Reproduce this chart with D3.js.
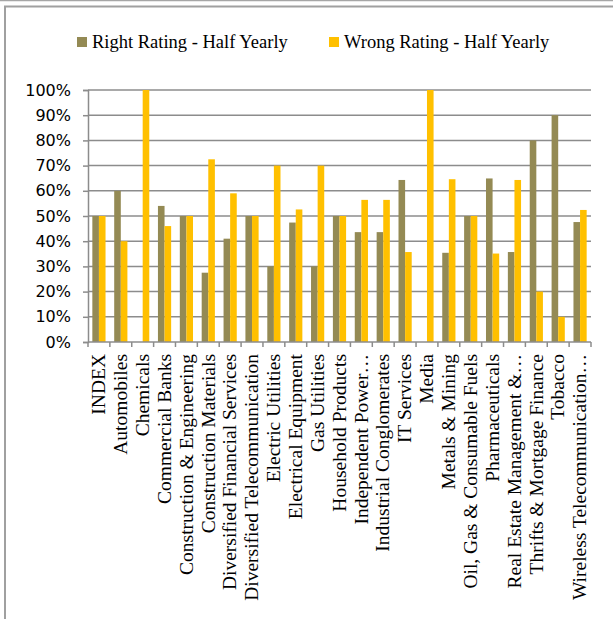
<!DOCTYPE html>
<html>
<head>
<meta charset="utf-8">
<script src="https://cdn.jsdelivr.net/npm/d3@7"></script>
<style>
  body { margin: 0; background: #fff; }
</style>
</head>
<body>
<script>
// data
var categories = ["INDEX", "Automobiles", "Chemicals", "Commercial Banks", "Construction & Engineering",
  "Construction Materials", "Diversified Financial Services", "Diversified Telecommunication",
  "Electric Utilities", "Electrical Equipment", "Gas Utilities", "Household Products",
  "Independent Power…", "Industrial Conglomerates", "IT Services", "Media", "Metals & Mining",
  "Oil, Gas & Consumable Fuels", "Pharmaceuticals", "Real Estate Management &…",
  "Thrifts & Mortgage Finance", "Tobacco", "Wireless Telecommunication…"];
var rightRating = [50, 60, 0, 54, 50, 27.5, 41, 50, 30, 47.4, 30, 50, 43.6, 43.6, 64.3, 0, 35.4, 50, 64.9, 35.7, 80, 90, 47.6];
var wrongRating = [50, 40, 100, 46, 50, 72.5, 59, 50, 70, 52.6, 70, 50, 56.4, 56.4, 35.7, 100, 64.6, 50, 35.1, 64.3, 20, 10, 52.4];
var seriesNames = ["Right Rating - Half Yearly", "Wrong Rating - Half Yearly"];
var yTicks = [0, 10, 20, 30, 40, 50, 60, 70, 80, 90, 100];

var colors = ["#948A54", "#FFC000"];

var W = 613, H = 619;
var svg = d3.select("body").append("svg")
  .attr("width", W)
  .attr("height", H);

// chart frame
svg.append("line")
  .attr("x1", 0).attr("x2", W).attr("y1", 0.5).attr("y2", 0.5)
  .attr("stroke", "#a6a6a6").attr("stroke-width", 1.5);
svg.append("rect")
  .attr("x", 5).attr("y", 6.5).attr("width", W + 20).attr("height", H + 20)
  .attr("fill", "none").attr("stroke", "#a0a0a0").attr("stroke-width", 2);

var plot = {left: 88, right: 591, top: 90, bottom: 342};

var x = d3.scaleBand()
  .domain(categories)
  .range([plot.left, plot.right]);

var y = d3.scaleLinear()
  .domain([0, 100])
  .range([plot.bottom, plot.top]);

// gridlines
svg.append("g")
  .selectAll("line")
  .data(yTicks.filter(d => d > 0))
  .enter().append("line")
  .attr("x1", plot.left).attr("x2", plot.right)
  .attr("y1", d => y(d)).attr("y2", d => y(d))
  .attr("stroke", "#8c8c8c")
  .attr("stroke-width", 1.5);

// y axis
var yAxis = svg.append("g")
  .attr("transform", "translate(" + plot.left + ",0)")
  .call(d3.axisLeft(y).tickValues(yTicks).tickSize(5).tickPadding(12).tickFormat(d => d + "%"));
yAxis.selectAll("path, line").attr("stroke", "#8c8c8c").attr("stroke-width", 1.5);
yAxis.selectAll("text")
  .attr("fill", "#000")
  .style("font-family", "'DejaVu Sans', Verdana, sans-serif")
  .style("font-size", "16px");

// bars
var barW = 6.6;
var groups = svg.append("g")
  .selectAll("g")
  .data(categories)
  .enter().append("g")
  .attr("transform", d => "translate(" + (x(d) + x.bandwidth() / 2) + ",0)");

groups.append("rect")
  .attr("x", -barW)
  .attr("width", barW)
  .attr("y", (d, i) => y(rightRating[i]))
  .attr("height", (d, i) => plot.bottom - y(rightRating[i]))
  .attr("fill", colors[0]);

groups.append("rect")
  .attr("x", 0)
  .attr("width", barW)
  .attr("y", (d, i) => y(wrongRating[i]))
  .attr("height", (d, i) => plot.bottom - y(wrongRating[i]))
  .attr("fill", colors[1]);

// x axis
var xAxisG = svg.append("g")
  .attr("transform", "translate(0," + plot.bottom + ")");
xAxisG.append("line")
  .attr("x1", plot.left).attr("x2", plot.right)
  .attr("stroke", "#8c8c8c").attr("stroke-width", 1.5);
xAxisG.selectAll(".tk")
  .data(categories.concat(["_end"]))
  .enter().append("line")
  .attr("class", "tk")
  .attr("x1", (d, i) => plot.left + i * x.step())
  .attr("x2", (d, i) => plot.left + i * x.step())
  .attr("y1", 0).attr("y2", 5)
  .attr("stroke", "#8c8c8c").attr("stroke-width", 1.5);

xAxisG.selectAll(".lbl")
  .data(categories)
  .enter().append("text")
  .attr("class", "lbl")
  .attr("transform", d => "translate(" + (x(d) + x.bandwidth() / 2) + ",12) rotate(-90)")
  .attr("dy", "0.32em")
  .attr("text-anchor", "end")
  .style("font-family", "'Liberation Serif', 'Times New Roman', serif")
  .style("font-size", "19.5px")
  .attr("fill", "#000")
  .text(d => d);

// legend
var legendX = [77, 329];
var legend = svg.append("g");
seriesNames.forEach(function(name, i) {
  var row = legend.append("g").attr("transform", "translate(" + legendX[i] + ",37)");
  row.append("rect")
    .attr("width", 10).attr("height", 10)
    .attr("fill", colors[i]);
  row.append("text")
    .attr("x", 15).attr("y", 11)
    .style("font-family", "'Liberation Serif', 'Times New Roman', serif")
    .style("font-size", "18.5px")
    .attr("fill", "#000")
    .text(name);
});
</script>
</body>
</html>
